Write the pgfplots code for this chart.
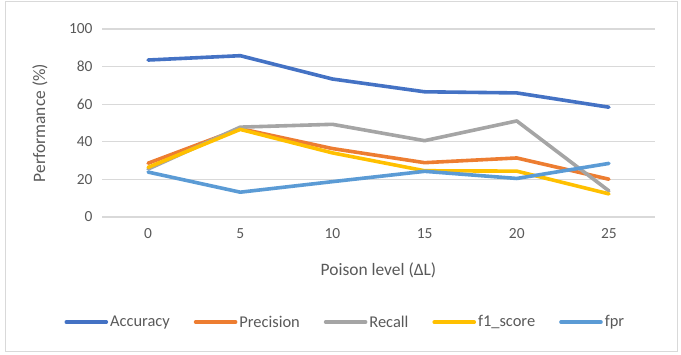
\documentclass[border=0pt]{standalone}
\usepackage{pgfplots}
\pgfplotsset{compat=1.18}
\usepackage{fontspec}
\setmainfont{Carlito}
\definecolor{cAcc}{HTML}{4472C4}
\definecolor{cPre}{HTML}{ED7D31}
\definecolor{cRec}{HTML}{A5A5A5}
\definecolor{cF1}{HTML}{FFC000}
\definecolor{cFpr}{HTML}{5B9BD5}
\definecolor{txt}{HTML}{595959}
\definecolor{gridc}{HTML}{D9D9D9}
\begin{document}
\begin{tikzpicture}[x=1bp,y=1bp]
\useasboundingbox (0,0) rectangle (681,354);
\draw[gridc,line width=1bp] (5,2.5) rectangle (677,352);
\begin{axis}[
  at={(102bp,137bp)},anchor=south west,
  scale only axis,width=553bp,height=188bp,
  xmin=-0.5,xmax=5.5,ymin=0,ymax=100,
  xtick={0,...,5},xticklabels={0,5,10,15,20,25},
  ytick={0,20,...,100},
  axis line style={draw=none},
  major tick length=0pt,
  xmajorgrids=false,ymajorgrids=true,
  major grid style={draw=gridc,line width=1.2bp},
  tick label style={font=\fontsize{15.5}{18}\selectfont,text=txt},
  /pgf/number format/assume math mode=true,
  yticklabel style={xshift=-6bp},
  xticklabel style={yshift=-8bp},
  xlabel={Poison level (ΔL)},
  ylabel={Performance (\%)},
  label style={font=\fontsize{17.5}{20}\selectfont,text=txt},
  xlabel style={at={(axis description cs:0.5,-0.282)},anchor=center},
  ylabel style={at={(axis description cs:-0.112,0.5)},anchor=center},
  every axis plot/.append style={line width=3.6bp,line cap=round,line join=round,mark=none},
  legend style={draw=none,fill=none,at={(axis description cs:0.44,-0.559)},anchor=center,
    legend columns=5,font=\fontsize{16.5}{19}\selectfont,text=txt,
    /tikz/every even column/.append style={column sep=22bp}},
  legend image code/.code={\draw[#1,line width=3.6bp,line cap=round] (0bp,0bp) -- (40bp,0bp);},
  legend cell align=left,
  clip=false,
]
\addplot[cAcc] coordinates {(0,83.5) (1,85.8) (2,73.4) (3,66.6) (4,66.0) (5,58.4)};
\addplot[cPre] coordinates {(0,28.6) (1,47.0) (2,36.4) (3,28.9) (4,31.4) (5,20.1)};
\addplot[cRec] coordinates {(0,25.5) (1,47.8) (2,49.3) (3,40.6) (4,51.1) (5,13.9)};
\addplot[cF1]  coordinates {(0,26.4) (1,46.6) (2,34.1) (3,24.6) (4,24.4) (5,12.3)};
\addplot[cFpr] coordinates {(0,23.9) (1,13.2) (2,18.8) (3,24.3) (4,20.5) (5,28.5)};
\legend{Accuracy,Precision,Recall,f1\_score,fpr}
\end{axis}
\end{tikzpicture}
\end{document}
